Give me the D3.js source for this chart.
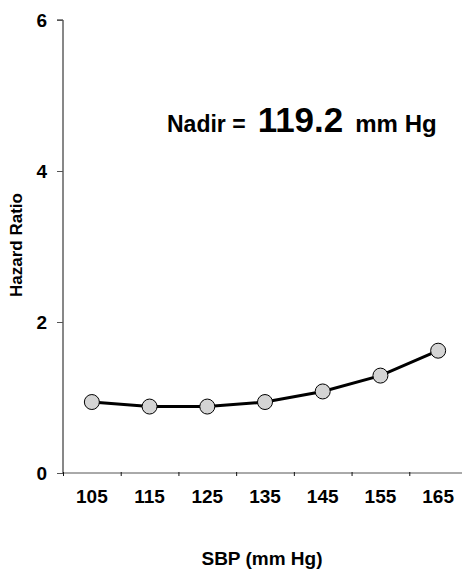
<!DOCTYPE html>
<html>
<head>
<meta charset="utf-8">
<script src="https://cdn.jsdelivr.net/npm/d3@7"></script>
<style>
  body { margin: 0; background: #fff; }
  svg { display: block; font-family: "Liberation Sans", Arial, sans-serif; font-weight: bold; }
</style>
</head>
<body>
<svg id="chart" width="462" height="574"></svg>
<script>
// SBP categories (mm Hg) and hazard ratio
const sbp = [105, 115, 125, 135, 145, 155, 165];
const hazardRatio = [0.94, 0.88, 0.88, 0.94, 1.08, 1.29, 1.62];
const yTicks = [0, 2, 4, 6];
const nadir = "119.2";

const svg = d3.select("#chart");

// x is linear over SBP so category edges fall at 100, 110, ... 170
const x = d3.scaleLinear().domain([100, 170]).range([63, 467]);
const y = d3.scaleLinear().domain([0, 6]).range([473, 20]);

// y axis
const yAxis = svg.append("g")
  .attr("transform", "translate(63,0)")
  .call(d3.axisLeft(y).tickValues(yTicks).tickSize(6).tickPadding(10).tickFormat(d3.format("d")));
yAxis.select(".domain").attr("stroke", "#111").attr("d", `M-6,${y(6)}H0V${y(0)}`);
yAxis.selectAll(".tick line").attr("stroke", "#555");
yAxis.selectAll(".tick text")
  .attr("font-size", 19)
  .attr("font-weight", "bold")
  .attr("font-family", "Liberation Sans, Arial, sans-serif")
  .attr("fill", "#000");

// x axis: ticks at category edges, labels at centres
const edges = d3.range(100, 171, 10);
const xAxis = svg.append("g")
  .attr("transform", `translate(0,${y(0)})`)
  .call(d3.axisBottom(x).tickValues(edges).tickSize(3).tickFormat(""));
xAxis.select(".domain").attr("stroke", "#555").attr("d", `M${x(100)},0H${x(170)}`);
xAxis.selectAll(".tick line").attr("stroke", "#111").attr("y1", -1);

svg.append("g")
  .selectAll("text")
  .data(sbp)
  .join("text")
  .attr("x", d => x(d))
  .attr("y", 503)
  .attr("text-anchor", "middle")
  .attr("font-size", 19)
  .text(d => d);

// axis titles
svg.append("text")
  .attr("transform", `translate(22,245) rotate(-90)`)
  .attr("text-anchor", "middle")
  .attr("font-size", 17)
  .text("Hazard Ratio");

svg.append("text")
  .attr("x", 262)
  .attr("y", 565)
  .attr("text-anchor", "middle")
  .attr("font-size", 19)
  .text("SBP (mm Hg)");

// curve
const pts = sbp.map((s, i) => [s, hazardRatio[i]]);
svg.append("path")
  .datum(pts)
  .attr("fill", "none")
  .attr("stroke", "#000")
  .attr("stroke-width", 3)
  .attr("d", d3.line().x(d => x(d[0])).y(d => y(d[1])));

svg.append("g")
  .selectAll("circle")
  .data(pts)
  .join("circle")
  .attr("cx", d => x(d[0]))
  .attr("cy", d => y(d[1]))
  .attr("r", 7.5)
  .attr("fill", "#d4d4d4")
  .attr("stroke", "#000")
  .attr("stroke-width", 1);

// nadir annotation
const note = svg.append("text")
  .attr("x", 167)
  .attr("y", 132)
  .attr("font-size", 23);
note.append("tspan").text("Nadir =");
note.append("tspan").attr("dx", 12).attr("font-size", 35).text(nadir);
note.append("tspan").attr("dx", 12).attr("font-size", 24).text("mm Hg");
</script>
</body>
</html>
